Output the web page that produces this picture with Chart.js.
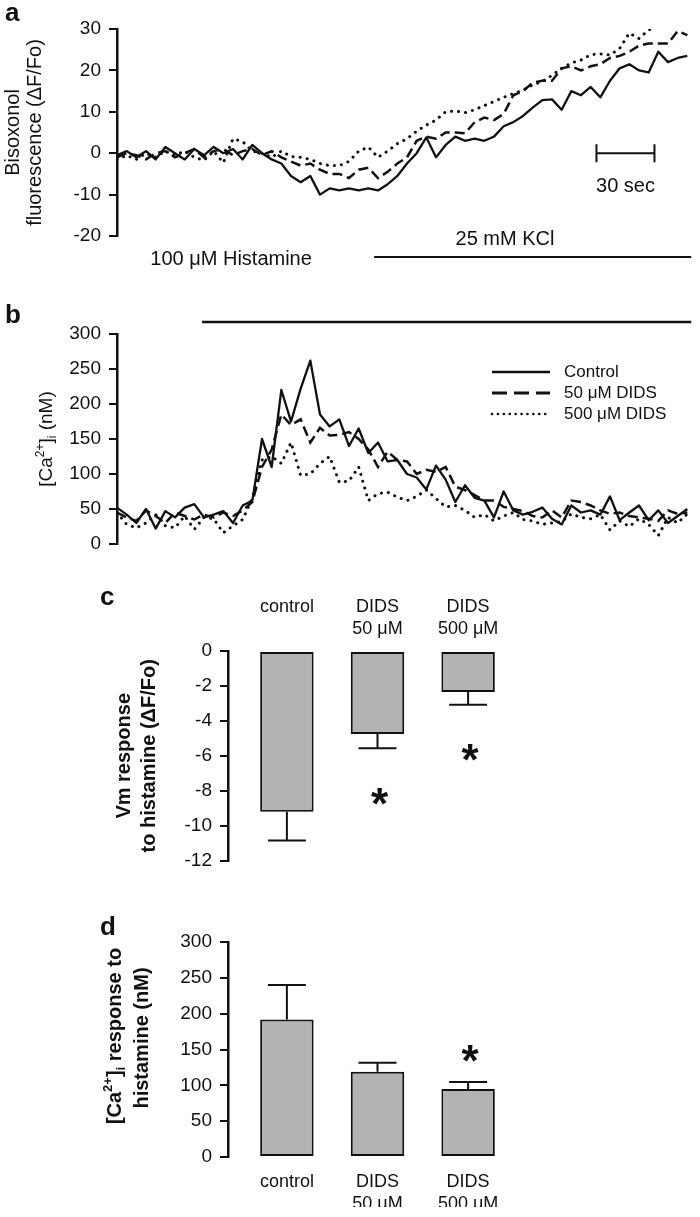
<!DOCTYPE html>
<html>
<head>
<meta charset="utf-8">
<script src="https://cdn.jsdelivr.net/npm/chart.js@4.4.0/dist/chart.umd.min.js"></script>
<style>
  body { margin: 0; background: #fff; width: 700px; height: 1217px; position: relative; overflow: hidden; }
  canvas { position: absolute; left: 0; }
</style>
</head>
<body>
<canvas id="pa" width="700" height="280" style="top:0px"></canvas>
<canvas id="pb" width="700" height="290" style="top:280px"></canvas>
<canvas id="pc" width="700" height="310" style="top:570px"></canvas>
<canvas id="pd" width="700" height="337" style="top:880px"></canvas>
<script>
// tiempo (s) de cada muestra de los registros a y b
const tiempos = [0,5,10,15,20,25,30,35,40,45,50,55,60,65,70,75,80,85,90,95,100,105,110,115,120,125,130,135,140,145,150,155,160,165,170,175,180,185,190,195,200,205,210,215,220,225,230,235,240,245,250,255,260,265,270,275,280,285,290,295]

const series = ['Control', '50 μM DIDS', '500 μM DIDS']

// panel a: bisoxonol (ΔF/Fo)
const aControl = [-0.5,0.5,-1,0.5,-1.5,1.5,0,-1.5,1,-0.5, 1.5,0,1,-1.5,2,0,-1.5,-2.5,-5.5,-7, -5.5,-10,-8.5,-9,-8.5,-9,-8.5,-9,-7.5,-5.5, -2.5,0,3.8,-1,2,4,3,3.5,3,4, 6.5,7.5,9,11,12.8,13,10.5,15,14,16, 13.5,17.5,20.5,21.5,20,19.5,24.5,22,23,23.5]
const aDids50 = [-1,0,-0.5,-1.5,0,0.5,-1,0,1,-1, 0.5,1,-0.5,0.5,1,-0.5,0.5,-1,-2,-3, -2.5,-4,-5,-5,-6,-4,-3.5,-6,-4.5,-2.5, -1,3,4,3.5,5,5,4.8,7.5,8.6,8, 9.5,14,15,17,17.5,17.5,20.5,21,20,21, 21.5,23,23.5,24.5,26,26.5,26.5,26.5,29.5,28.5]
const aDids500 = [-1.5,-0.5,-1.5,0,-1,0.5,-0.5,0.5,-1,-1.7, 0.5,-2.3,3.5,2.8,0.5,0,-1,0.5,-0.8,-1, -1.5,-2.5,-3,-3,-2,0.5,1.5,-1,0.5,2.3, 3.5,5.3,6.8,8,10,10.2,9.8,10.5,11.5,12.5, 13.5,14.4,15.2,16.5,17.3,18.8,20.5,21.8,22.5,23.8, 24,23.7,25.3,29,27.7,29.8,30.5,31,31,31]

// panel b: [Ca2+]i (nM)
const bControl = [52,42,30,50,22,47,38,52,57,38, 42,47,30,55,62,150,110,220,175,222, 262,185,168,178,140,165,130,145,118,120, 100,95,78,112,92,60,84,66,62,38, 75,48,42,46,52,36,28,55,45,48, 42,68,34,45,55,34,48,30,40,50]
const bDids50 = [45,38,33,48,40,30,45,40,35,42, 38,45,40,48,60,110,135,185,170,178, 145,166,155,156,160,150,135,110,132,120, 118,100,106,103,110,82,77,70,62,62, 53,50,47,40,38,48,38,62,60,55, 48,43,45,40,38,36,33,48,43,45]
const bDids500 = [45,28,23,30,42,26,23,40,21,38, 36,16,26,35,65,120,125,115,145,98, 100,115,125,88,90,110,62,72,74,67, 62,68,77,65,53,55,48,38,42,33, 40,45,35,33,28,30,32,43,38,36, 42,20,33,25,36,28,12,38,30,43]

// panel c: Vm response to histamine
const etiquetasC = [['control', ''], ['DIDS', '50 μM'], ['DIDS', '500 μM']]
const vmMedia = [-9.2, -4.75, -2.35]
const vmError = [1.65, 0.82, 0.73]
const vmSig = [false, true, true]

// panel d: [Ca2+]i response to histamine
const etiquetasD = ['control', ['DIDS', '50 μM'], ['DIDS', '500 μM']]
const caMedia = [192, 119, 95]
const caError = [48, 12.5, 9.5]
const caSig = [false, false, true]

const FONT = "'Liberation Sans', Arial, sans-serif"
const INK = '#111'
const GRIS = '#b3b3b3'
Chart.defaults.font.family = FONT
Chart.defaults.color = INK

const serie = (valores) => valores.map((v, i) => ({x: tiempos[i], y: v}))

const estilos = [
   {borderWidth: 2.3, borderDash: [], borderJoinStyle: 'round'},
   {borderWidth: 2.5, borderDash: [10, 5]},
   {borderWidth: 3, borderDash: [0.1, 7], borderCapStyle: 'round'}
]

const conjuntos = (arrays) => arrays.map((a, i) => Object.assign({
   label: series[i],
   data: serie(a),
   borderColor: INK,
   pointRadius: 0,
   tension: 0,
   fill: false
}, estilos[i]))

const ejeY = (min, max, paso, ancho, extra) => Object.assign({
   min: min,
   max: max,
   ticks: {stepSize: paso, padding: 8, color: INK, font: {size: 19}},
   grid: {drawOnChartArea: false, tickLength: 8, color: INK, lineWidth: 2},
   border: {color: INK, width: 2.5},
   afterFit: s => { s.width = ancho }
}, extra)

const letra = (ctx, t, x, y) => {
   ctx.font = `bold 26px ${FONT}`
   ctx.textAlign = 'left'
   ctx.textBaseline = 'alphabetic'
   ctx.fillText(t, x, y)
}

const textoGirado = (ctx, partes, cx, cy, tam, negrita) => {
   const base = `${negrita ? 'bold ' : ''}${tam}px ${FONT}`
   const chico = `${negrita ? 'bold ' : ''}${Math.round(tam * 0.65)}px ${FONT}`
   ctx.save()
   ctx.translate(cx, cy)
   ctx.rotate(-Math.PI / 2)
   ctx.textBaseline = 'middle'
   ctx.textAlign = 'left'
   let total = 0
   partes.forEach(p => { ctx.font = (p.sup || p.sub) ? chico : base; total += ctx.measureText(p.t).width })
   let x = -total / 2
   partes.forEach(p => {
      ctx.font = (p.sup || p.sub) ? chico : base
      const dy = p.sup ? -tam * 0.33 : (p.sub ? tam * 0.3 : 0)
      ctx.fillText(p.t, x, dy)
      x += ctx.measureText(p.t).width
   })
   ctx.restore()
}

const estrella = (ctx, x, yc) => {
   ctx.font = `bold 44px ${FONT}`
   ctx.textAlign = 'center'
   ctx.textBaseline = 'alphabetic'
   ctx.fillText('*', x, yc + 44 * 0.575)
}

const anotacionesA = {
   id: 'anotA',
   afterDraw(chart) {
      const {ctx, scales: {x, y}} = chart
      ctx.save()
      ctx.fillStyle = INK
      ctx.strokeStyle = INK
      letra(ctx, 'a', 5, 21)
      ctx.font = `20px ${FONT}`
      ctx.textAlign = 'center'
      ctx.textBaseline = 'alphabetic'
      ctx.fillText('100 μM Histamine', x.getPixelForValue(59), 265)
      ctx.fillText('25 mM KCl', x.getPixelForValue(200.7), 245)
      ctx.lineWidth = 2
      ctx.beginPath()
      ctx.moveTo(x.getPixelForValue(133), 257)
      ctx.lineTo(x.getPixelForValue(297), 257)
      ctx.stroke()
      // barra de escala 30 s
      const x0 = x.getPixelForValue(248), x1 = x.getPixelForValue(278), ys = y.getPixelForValue(0)
      ctx.beginPath()
      ctx.moveTo(x0, ys); ctx.lineTo(x1, ys)
      ctx.moveTo(x0, ys - 9); ctx.lineTo(x0, ys + 9)
      ctx.moveTo(x1, ys - 9); ctx.lineTo(x1, ys + 9)
      ctx.stroke()
      ctx.fillText('30 sec', (x0 + x1) / 2, 192)
      ctx.restore()
   }
}

const dashLeyenda = [
   {dash: [], w: 2.5, cap: 'butt'},
   {dash: [15, 7], w: 2.8, cap: 'butt'},
   {dash: [0.1, 5.8], w: 2.6, cap: 'round'}
]

const anotacionesB = {
   id: 'anotB',
   afterDraw(chart) {
      const {ctx, scales: {x, y}} = chart
      ctx.save()
      ctx.fillStyle = INK
      ctx.strokeStyle = INK
      letra(ctx, 'b', 5, 43)
      ctx.lineWidth = 2.5
      const yh = y.getPixelForValue(300) - 12
      ctx.beginPath()
      ctx.moveTo(x.getPixelForValue(44), yh)
      ctx.lineTo(x.getPixelForValue(297), yh)
      ctx.stroke()
      chart.data.datasets.forEach((ds, i) => {
         const yl = 92 + i * 21
         const st = dashLeyenda[i]
         ctx.setLineDash(st.dash)
         ctx.lineWidth = st.w
         ctx.lineCap = st.cap
         ctx.beginPath()
         ctx.moveTo(492, yl)
         ctx.lineTo(550, yl)
         ctx.stroke()
         ctx.setLineDash([])
         ctx.font = `17px ${FONT}`
         ctx.textAlign = 'left'
         ctx.textBaseline = 'middle'
         ctx.fillText(ds.label, 564, yl)
      })
      const ca = chart.chartArea
      textoGirado(ctx, [{t: '[Ca'}, {t: '2+', sup: true}, {t: ']'}, {t: 'i', sub: true}, {t: ' (nM)'}], 47, (ca.top + ca.bottom) / 2, 19, false)
      ctx.restore()
   }
}

const barrasError = (media, error, sig, desplazamiento, extra) => ({
   id: 'errores',
   afterDraw(chart) {
      const {ctx, scales: {y}} = chart
      ctx.save()
      ctx.fillStyle = INK
      ctx.strokeStyle = INK
      ctx.lineWidth = 2
      chart.getDatasetMeta(0).data.forEach((bar, i) => {
         const fin = media[i] + Math.sign(media[i]) * error[i]
         const y0 = y.getPixelForValue(media[i]), y1 = y.getPixelForValue(fin)
         ctx.beginPath()
         ctx.moveTo(bar.x, y0); ctx.lineTo(bar.x, y1)
         ctx.moveTo(bar.x - 19, y1); ctx.lineTo(bar.x + 19, y1)
         ctx.stroke()
         if (sig[i]) estrella(ctx, bar.x + 2, y1 + desplazamiento)
      })
      extra(chart, ctx)
      ctx.restore()
   }
})

const opcionesBase = (padding) => ({
   responsive: false,
   animation: false,
   events: [],
   layout: {padding: padding},
   plugins: {legend: {display: false}, tooltip: {enabled: false}}
})

// ---- a ----
new Chart(document.getElementById('pa'), {
   type: 'line',
   data: {datasets: conjuntos([aControl, aDids50, aDids500])},
   options: Object.assign(opcionesBase({left: 0, top: 29, right: 3, bottom: 44}), {
      scales: {
         x: {type: 'linear', min: 0, max: 300, display: false},
         y: ejeY(-20, 30, 10, 117, {
            title: {display: true, text: ['Bisoxonol', 'fluorescence (ΔF/Fo)'], color: INK,
                    font: {size: 20, lineHeight: 1.1}, padding: {top: 2, bottom: 0}}
         })
      }
   }),
   plugins: [anotacionesA]
})

// ---- b ----
new Chart(document.getElementById('pb'), {
   type: 'line',
   data: {datasets: conjuntos([bControl, bDids50, bDids500])},
   options: Object.assign(opcionesBase({left: 0, top: 54, right: 3, bottom: 26}), {
      scales: {
         x: {type: 'linear', min: 0, max: 300, display: false},
         y: ejeY(0, 300, 50, 117)
      }
   }),
   plugins: [anotacionesB]
})

const datosBarra = (valores) => valores.map((v, i) => ({x: i, y: v}))

const ejeCategorias = (posicion, etiquetas, alto, pad) => ({
   type: 'linear',
   position: posicion,
   min: -0.65,
   max: 2.65,
   offset: false,
   grid: {display: false, drawTicks: false, offset: false},
   border: {display: false},
   ticks: {stepSize: 1, includeBounds: false, autoSkip: false, maxRotation: 0, padding: pad,
           color: INK, font: {size: 18, lineHeight: 1.22},
           callback: v => etiquetas[v] !== undefined ? etiquetas[v] : ''},
   afterFit: s => { s.height = alto }
})

const barra = {
   backgroundColor: GRIS,
   borderColor: INK,
   borderWidth: 2,
   borderSkipped: false,
   barPercentage: 0.59,
   categoryPercentage: 1
}

// ---- c ----
new Chart(document.getElementById('pc'), {
   type: 'bar',
   data: {datasets: [Object.assign({data: datosBarra(vmMedia)}, barra)]},
   options: Object.assign(opcionesBase({left: 0, top: 21, right: 173, bottom: 14}), {
      scales: {
         x: ejeCategorias('top', etiquetasC, 60, 11),
         y: ejeY(-12, 0, 2, 228, {
            title: {display: true, text: ['Vm response', 'to histamine (ΔF/Fo)'], color: INK,
                    font: {size: 20, weight: 'bold', lineHeight: 1.25}, padding: {top: 111.5, bottom: 0}}
         })
      }
   }),
   plugins: [barrasError(vmMedia, vmError, vmSig, 45, (chart, ctx) => letra(ctx, 'c', 100, 35))]
})

// ---- d ----
new Chart(document.getElementById('pd'), {
   type: 'bar',
   data: {datasets: [Object.assign({data: datosBarra(caMedia)}, barra)]},
   options: Object.assign(opcionesBase({left: 0, top: 62, right: 173, bottom: 10}), {
      scales: {
         x: ejeCategorias('bottom', etiquetasD, 50, 14),
         y: ejeY(0, 300, 50, 228)
      }
   }),
   plugins: [barrasError(caMedia, caError, caSig, -31, (chart, ctx) => {
      letra(ctx, 'd', 100, 55)
      textoGirado(ctx, [{t: '[Ca'}, {t: '2+', sup: true}, {t: ']'}, {t: 'i', sub: true}, {t: ' response to'}], 115, 156, 20, true)
      textoGirado(ctx, [{t: 'histamine (nM)'}], 142, 158, 20, true)
   })]
})
</script>
</body>
</html>
